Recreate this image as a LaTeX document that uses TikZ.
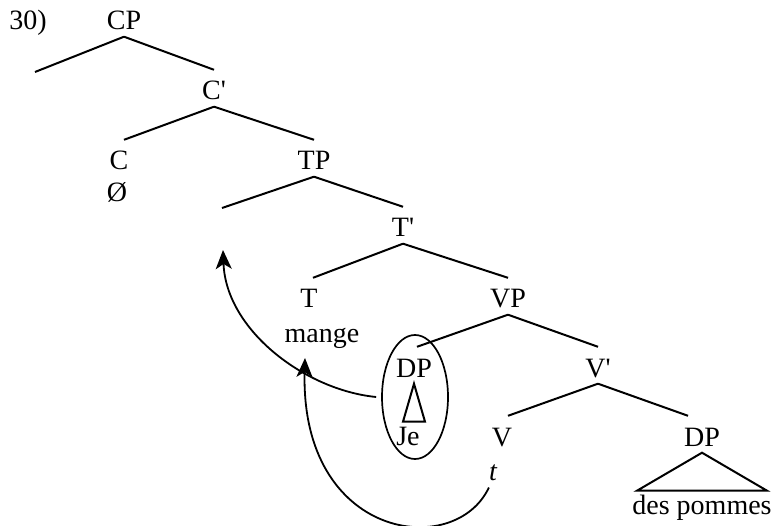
\documentclass[tikz,border=0pt]{standalone}
\usepackage{fontspec}
\setmainfont{Liberation Serif}
\usetikzlibrary{arrows.meta,shapes.geometric,calc}
\begin{document}
\begin{tikzpicture}[x=1pt,y=-1pt,
  every node/.style={font=\fontsize{28}{33}\selectfont, inner sep=0pt},
  lab/.style={text height=30pt, text depth=6.5pt, anchor=base},
  word/.style={anchor=base},
  branch/.style={line width=2pt},
  move/.style={line width=1.8pt, -{Stealth[length=19pt,width=16pt,inset=5pt]}},
]
\useasboundingbox (0,0) rectangle (781,526);
\node[word] (num) at (28,30) {30)};
\node[lab] (cp) at (124,30) {CP};
\coordinate (cpspec) at (35,72);
\node[lab] (cbar) at (214,100) {C\textquotesingle};
\node[lab] (c) at (119,170) {C};
\node[word] (null) at (117,202) {Ø};
\node[lab] (tp) at (314,170) {TP};
\coordinate (tpspec) at (222,208);
\node[lab] (tbar) at (403,237) {T\textquotesingle};
\node[lab] (t) at (309,308) {T};
\node[word] (mange) at (322,342) {mange};
\node[lab] (vp) at (508,308) {VP};
\node[lab] (dp) at (414,377) {DP};
\node[word] (je) at (408,445) {Je};
\node[lab] (vbar) at (598,377) {V\textquotesingle};
\node[lab] (v) at (502,446) {V};
\node[word] (trace) at (493,480) {\itshape t};
\node[lab] (dpo) at (702,446) {DP};
\node[word] (pommes) at (702,514) {des pommes};
\node[draw, ellipse, line width=1.7pt, minimum width=66pt, minimum height=124pt] (ring) at (415,397) {};

\draw[branch] (cp.south) -- (cpspec);
\draw[branch] (cp.south) -- (cbar.north);
\draw[branch] (cbar.south) -- ($(c.north)+(5,0)$);
\draw[branch] (cbar.south) -- (tp.north);
\draw[branch] (tp.south) -- (tpspec);
\draw[branch] (tp.south) -- (tbar.north);
\draw[branch] (tbar.south) -- ($(t.north)+(4,0)$);
\draw[branch] (tbar.south) -- (vp.north);
\draw[branch] (vp.south) -- ($(dp.north)+(3,0)$);
\draw[branch] (vp.south) -- (vbar.north);
\draw[branch] (vbar.south) -- ($(v.north)+(6,0)$);
\draw[branch] (vbar.south) -- ($(dpo.north)+(-14,0)$);
\draw[branch] (dp.south) -- ++(-11,38) -- ++(22,0) -- cycle;
\draw[branch] (dpo.south) -- ++(-65,38) -- ++(130,0) -- cycle;

\coordinate (land1) at (223,250);
\coordinate (land2) at (305,358);
\draw[move] ([xshift=-5pt]ring.west) .. controls (305,390) and (226,330) .. (land1);
\draw[move] ($(trace.south west)+(0,7)$) .. controls (455,560) and (300,540) .. (land2);
\end{tikzpicture}
\end{document}
